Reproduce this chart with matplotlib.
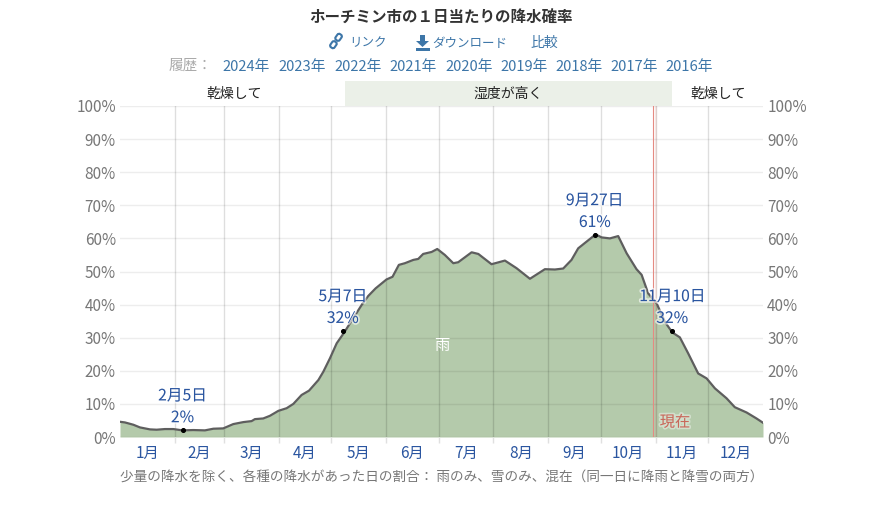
import matplotlib
matplotlib.use('Agg')
import matplotlib.pyplot as plt
import matplotlib.patheffects as pe
from matplotlib.patches import Polygon, Rectangle, FancyBboxPatch
from matplotlib.transforms import Affine2D

plt.rcParams['font.family'] = ['Noto Sans CJK JP', 'DejaVu Sans']

# day of year, rain probability in %
days = [0, 2.8, 7.6, 11.3, 17, 20.8, 25.5, 30.3, 35.4, 41.6, 48.2, 53, 58.6, 64.3, 70,
        74.7, 76.6, 81.3, 85.1, 89.9, 94.6, 98.4, 103.1, 107.3, 112.6, 115.4, 119.2,
        123, 127.3, 132.4, 137.2, 140.9, 145.1, 151.3, 154.7, 158.3, 161.7, 166.5,
        169.3, 172.1, 176.9, 180.1, 184.4, 189.2, 192, 199.6, 203.4, 210.9, 218.5,
        225.1, 232.7, 241.2, 246.9, 251.6, 256.3, 260.1, 264.8, 270, 273.4, 278.1,
        282.8, 287.6, 293.2, 296.1, 299.8, 304.6, 309.3, 313.5, 317.8, 322.5, 328.2,
        333, 337.7, 344.3, 349, 355.7, 361.3, 365]
rain = [4.6, 4.4, 3.7, 2.9, 2.3, 2.2, 2.4, 2.4, 2.0, 2.1, 2.0, 2.5, 2.6, 3.9, 4.5,
        4.8, 5.4, 5.6, 6.4, 7.9, 8.7, 10, 12.7, 14, 17.2, 19.7, 23.8,
        28.3, 31.6, 35.9, 39.9, 42.6, 44.9, 47.6, 48.4, 52, 52.5, 53.5,
        53.8, 55.3, 55.9, 56.8, 55, 52.5, 52.8, 55.8, 55.3, 52.2, 53.3,
        51, 47.8, 50.7, 50.6, 50.9, 53.5, 57, 59, 61.2, 60.3, 60,
        60.7, 55.5, 50.7, 49, 43.4, 40.4, 34.8, 31.6, 30.1, 25.3, 19.2,
        17.7, 14.7, 11.7, 9, 7.4, 5.6, 4.3]

month_edges = [31, 59, 90, 120, 151, 181, 212, 243, 273, 304, 334]
month_mids = [15.5, 45, 74.5, 105, 135.5, 166, 196.5, 227.5, 258, 288.5, 319, 349.5]
month_labels = ['1月', '2月', '3月', '4月', '5月', '6月', '7月', '8月', '9月', '10月', '11月', '12月']
y_ticks = list(range(0, 101, 10))

note_days = [35.5, 126.5, 269.5, 313.5]
note_vals = [2, 32, 61, 32]
note_text = ['2月5日\n2%', '5月7日\n32%', '9月27日\n61%', '11月10日\n32%']

now_day = 302.8
humid_start = 127.7
humid_end = 313.3
years = ['2024年', '2023年', '2022年', '2021年', '2020年', '2019年', '2018年', '2017年', '2016年']
year_x = [246, 302, 358, 413, 469, 524, 579, 634, 689]

W, H = 875, 505
blue = '#3d76a8'
dark_blue = '#2a55a0'
grey = '#777777'


def figtxt(x, y, s, **kw):
    kw.setdefault('ha', 'center')
    kw.setdefault('va', 'center')
    return fig.text(x / W, 1 - y / H, s, **kw)


fig = plt.figure(figsize=(8.75, 5.05), dpi=100)
ax = fig.add_axes([120 / W, 1 - 437 / H, 643 / W, 331 / H])
ax.set_xlim(0, 365)
ax.set_ylim(0, 100)

for s in ax.spines.values():
    s.set_visible(False)

ax.set_axisbelow(False)
ax.set_yticks(y_ticks)
ax.set_yticklabels([f'{v}%' for v in y_ticks], color=grey, fontsize=11)
ax.tick_params(axis='y', length=0, pad=3, labelright=True, labelleft=True)
ax.grid(axis='y', color='black', alpha=0.07, lw=1)
ax.set_xticks(month_edges)
ax.set_xticklabels([])
ax.tick_params(axis='x', length=4, color='#e0e0e0', width=1)
ax.grid(axis='x', color='black', alpha=0.13, lw=1)

ax.fill_between(days, rain, 0, color='#b4caab', lw=0, zorder=1)
ax.plot(days, rain, color='#5e5e5e', lw=1.6, zorder=4)
ax.axvline(now_day, color='#e58a82', lw=0.8, zorder=5)
ax.axvline(now_day + 1.2, color='#e07a72', lw=1.5, alpha=0.15, zorder=5)
ax.scatter(note_days, note_vals, s=7, color='black', zorder=6)

halo = [pe.withStroke(linewidth=2.5, foreground='white', alpha=0.6)]
for d, v, t in zip(note_days, note_vals, note_text):
    ax.annotate(t, (d, v), xytext=(0, 3), textcoords='offset points', ha='center', va='bottom',
                color=dark_blue, fontsize=11.3, linespacing=1.37, zorder=7, path_effects=halo)

for m, lab in zip(month_mids, month_labels):
    ax.annotate(lab, (m, 0), xytext=(0, -6), textcoords='offset points', ha='center', va='top',
                color=dark_blue, fontsize=11)

ax.text(182.5, 27.5, '雨', color='white', fontsize=11, ha='center', va='center', zorder=7)
ax.text(315, 4.5, '現在', color='#c8685a', fontsize=11, ha='center', va='center', zorder=7,
        path_effects=[pe.withStroke(linewidth=2.5, foreground='white', alpha=0.4)])

# dry / humid band over the axes
ax.add_patch(Rectangle((humid_start, 1), humid_end - humid_start, 25 / 331,
                       transform=ax.get_xaxis_transform(), color='#ebf0e8', lw=0, clip_on=False))
band_y = 1 + 12.5 / 331
ax.text(65, band_y, '乾燥して', transform=ax.get_xaxis_transform(), ha='center', va='center', color='#222222', fontsize=10)
ax.text((humid_start + humid_end) / 2, band_y, '湿度が高く', transform=ax.get_xaxis_transform(), ha='center', va='center', color='#222222', fontsize=10)
ax.text(339.5, band_y, '乾燥して', transform=ax.get_xaxis_transform(), ha='center', va='center', color='#222222', fontsize=10)

figtxt(441, 18, 'ホーチミン市の１日当たりの降水確率', color='#333333', fontsize=11.2, fontweight='bold')
figtxt(367.5, 43, 'リンク', color=blue, fontsize=9)
figtxt(470, 43, 'ダウンロード', color=blue, fontsize=9)
figtxt(544, 43, '比較', color=blue, fontsize=10)
figtxt(191, 66, '履歴：', color='#aaaaaa', fontsize=10.5)
for x, y in zip(year_x, years):
    figtxt(x, 67, y, color=blue, fontsize=10.6)
figtxt(442, 477, '少量の降水を除く、各種の降水があった日の割合： 雨のみ、雪のみ、混在（同一日に降雨と降雪の両方）',
       color=grey, fontsize=9.8)

# icons, drawn in pixels
px = Affine2D().scale(1 / W, -1 / H).translate(0, 1) + fig.transFigure
fig.add_artist(Polygon([(420, 35), (425, 35), (425, 41), (429, 41), (422.5, 47), (416, 41), (420, 41)],
                       color=blue, lw=0, transform=px))
fig.add_artist(Rectangle((416, 48), 14, 2.5, color=blue, lw=0, transform=px))
rot = Affine2D().rotate_deg_around(336, 41, -55) + px
for cx in (331.5, 340.5):
    fig.add_artist(FancyBboxPatch((cx - 3.5, 38.5), 7, 5, boxstyle='round,pad=0,rounding_size=2',
                                  fc='none', ec=blue, lw=1.5, transform=rot))

fig.savefig('out.png', dpi=100)
